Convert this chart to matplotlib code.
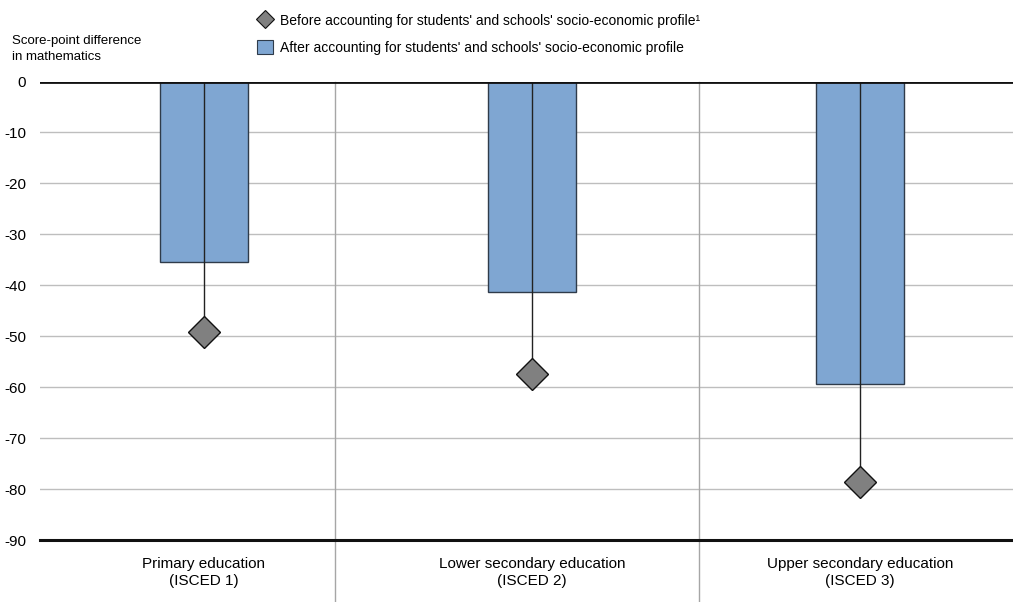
import matplotlib
matplotlib.use("Agg")
import matplotlib.pyplot as plt
from matplotlib.lines import Line2D
from matplotlib.patches import Patch

plt.rcParams['font.family'] = ['Liberation Sans', 'DejaVu Sans']

categories = ["Primary education\n(ISCED 1)", "Lower secondary education\n(ISCED 2)", "Upper secondary education\n(ISCED 3)"]
after_values = [-35.4, -41.3, -59.4]
before_values = [-49.1, -57.4, -78.6]
yticks = [0, -10, -20, -30, -40, -50, -60, -70, -80, -90]
separators = [0.40, 1.51]

bar_color = "#7FA6D2"
diamond_color = "#808080"

W, H = 1013, 602
fig = plt.figure(figsize=(W / 100, H / 100), dpi=100)
ax = fig.add_axes([40 / W, (H - 540) / H, (1013 - 40) / W, (540 - 81.5) / H])

x = list(range(len(categories)))
ax.set_xlim(-0.5, 2.467)
ax.set_ylim(-90, 0)

for t in yticks[1:-1]:
    ax.axhline(t, color="#BEBEBE", lw=1, zorder=0)

for s in separators:
    ax.plot([s, s], [0, -102], color="#A6A6A6", lw=1, zorder=0, clip_on=False)

ax.bar(x, after_values, width=0.27, color=bar_color, edgecolor="#2F3B4A", lw=1.0, zorder=2)
for xi, bv in zip(x, before_values):
    ax.plot([xi, xi], [0, bv], color="#222222", lw=1.0, zorder=3)
ax.plot(x, before_values, linestyle="none", marker="D", ms=16, mfc=diamond_color,
        mec="#111111", mew=1.0, zorder=4)

ax.axhline(0, color="#111111", lw=2, zorder=5)
ax.axhline(-90, color="#111111", lw=2.2, zorder=5, clip_on=False)

for sp in ax.spines.values():
    sp.set_visible(False)

ax.set_yticks(yticks)
ax.set_yticklabels([str(t) for t in yticks], fontsize=11)
ax.tick_params(axis="y", length=0, pad=10)
ax.set_xticks(x)
ax.set_xticklabels(categories, fontsize=11, linespacing=1.3)
ax.tick_params(axis="x", length=0, pad=12)

fig.text(12 / W, 1 - 35 / H, "Score-point difference\nin mathematics", fontsize=9.5,
         ha="left", va="top", linespacing=1.45)

handles = [
    Line2D([], [], linestyle="none", marker="D", ms=9, mfc=diamond_color, mec="#111111", mew=0.8),
    Patch(facecolor=bar_color, edgecolor="#2F3B4A", lw=0.8),
]
labels = ["Before accounting for students' and schools' socio-economic profile\u00b9",
          "After accounting for students' and schools' socio-economic profile"]
fig.legend(handles, labels, loc="upper left", bbox_to_anchor=(247 / W, 1 - 3 / H),
           frameon=False, fontsize=10, handlelength=1.2, handleheight=1.2,
           handletextpad=0.5, labelspacing=0.9, borderpad=0.2)

fig.savefig("out.png", dpi=100)
